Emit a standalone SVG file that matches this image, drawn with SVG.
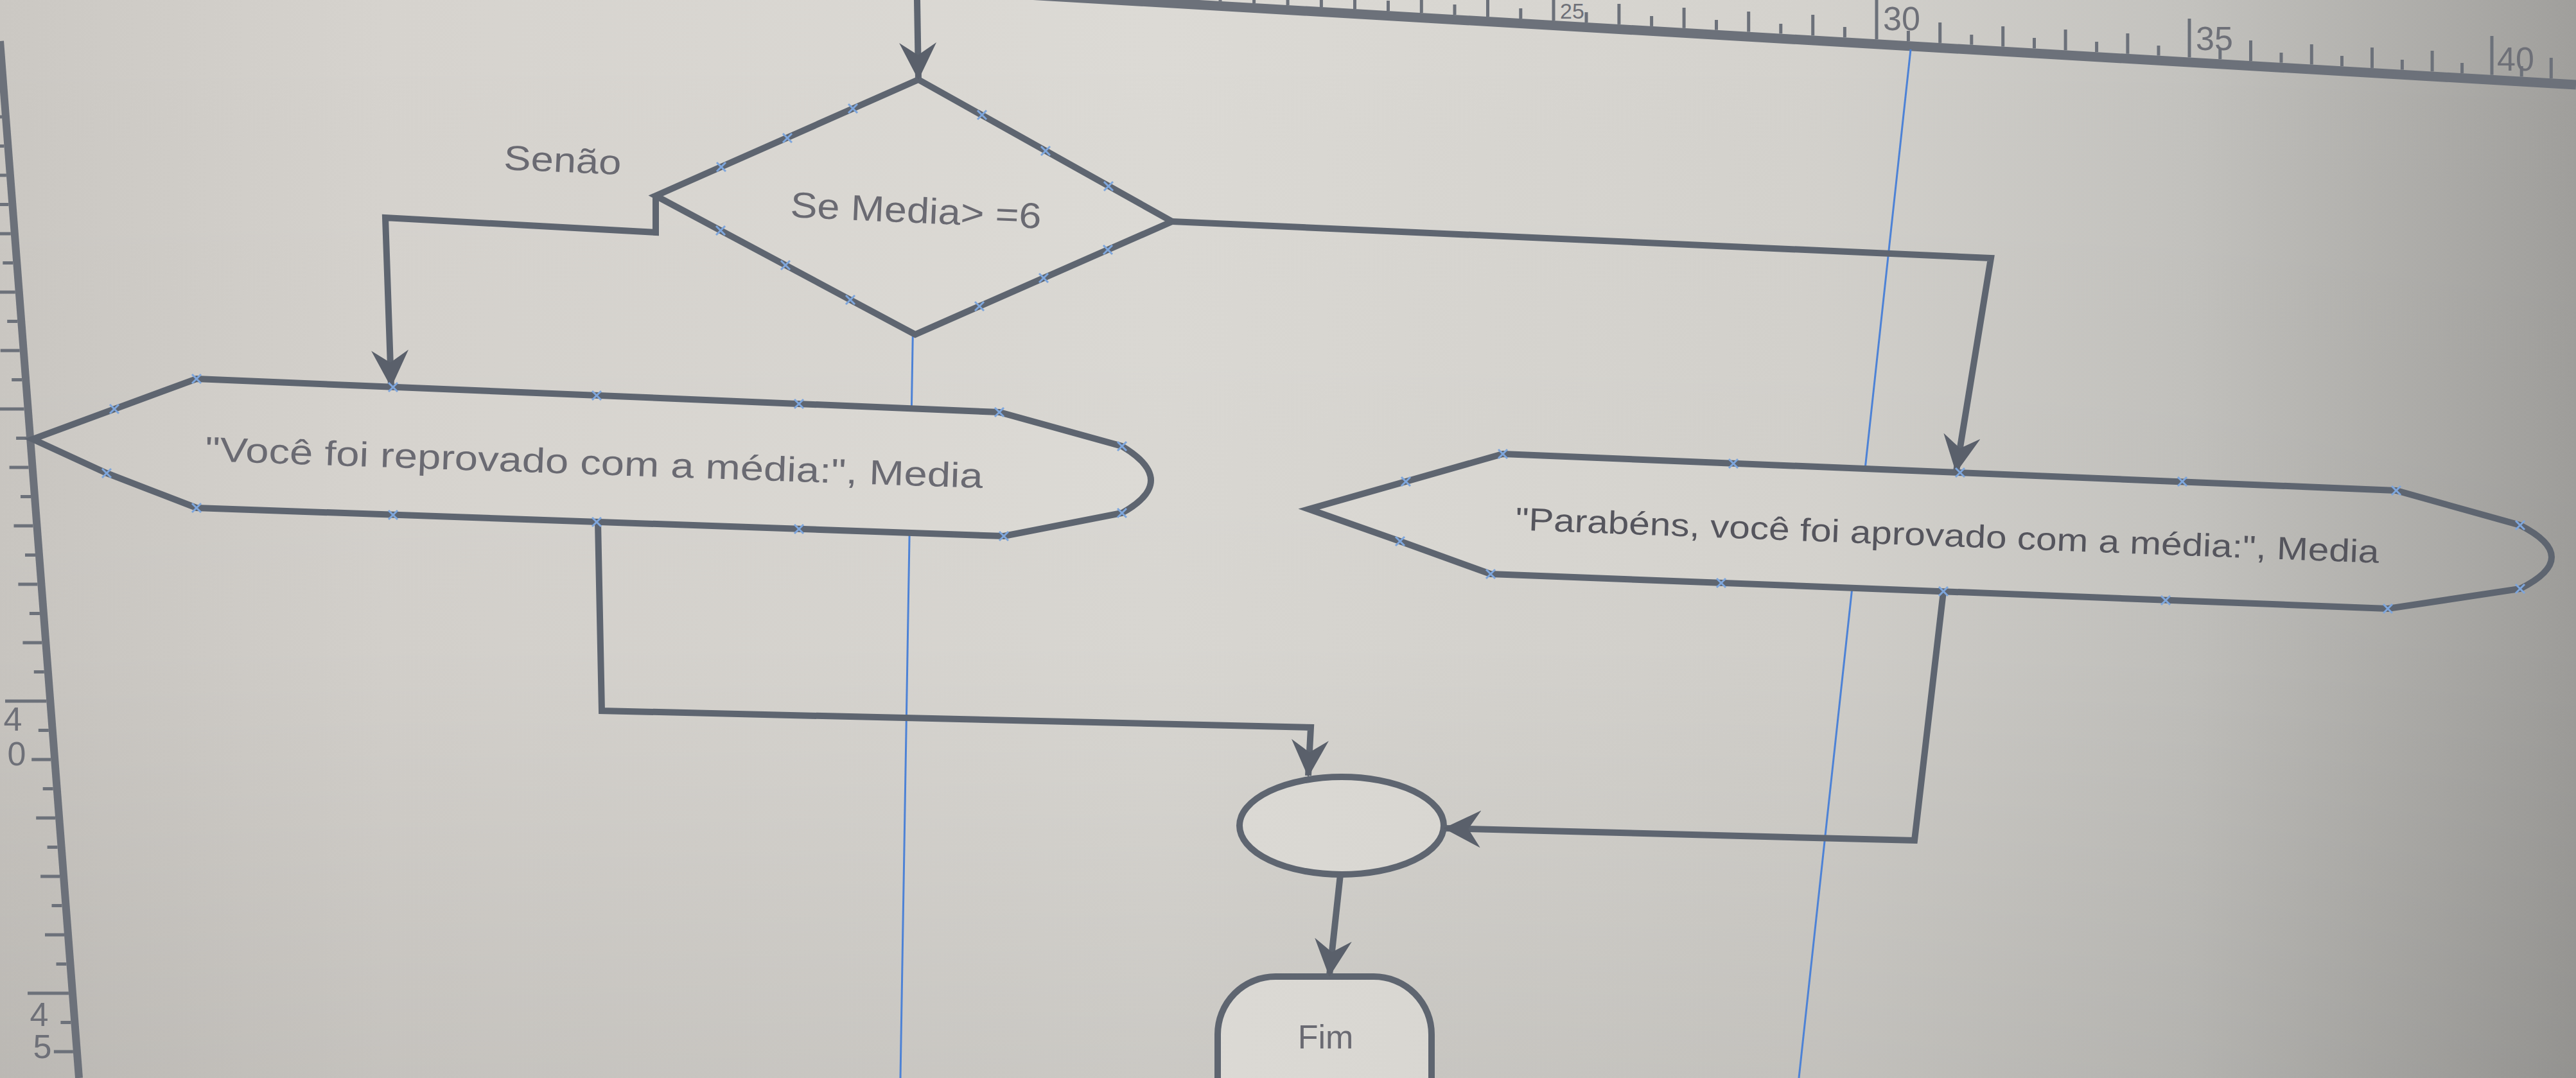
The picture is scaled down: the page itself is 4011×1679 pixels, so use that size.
<svg xmlns="http://www.w3.org/2000/svg" xmlns:xlink="http://www.w3.org/1999/xlink" width="4011" height="1679" viewBox="0 0 4011 1679">
<defs>
<linearGradient id="bg" gradientUnits="userSpaceOnUse" x1="0" y1="0" x2="4011" y2="0">
<stop offset="0" stop-color="#cbc8c3"/>
<stop offset="0.15" stop-color="#d6d3ce"/>
<stop offset="0.45" stop-color="#dcdad5"/>
<stop offset="0.7" stop-color="#d4d2cd"/>
<stop offset="0.85" stop-color="#c3c2be"/>
<stop offset="1" stop-color="#a09f9c"/>
</linearGradient>
<linearGradient id="shade" x1="0" y1="0" x2="0" y2="1">
<stop offset="0" stop-color="#000" stop-opacity="0"/>
<stop offset="0.6" stop-color="#000" stop-opacity="0.02"/>
<stop offset="1" stop-color="#000" stop-opacity="0.08"/>
</linearGradient>
<marker id="arr" viewBox="0 0 12 12" refX="11.5" refY="6" markerWidth="58" markerHeight="58" markerUnits="userSpaceOnUse" orient="auto">
<path d="M0,0 L12,6 L0,12 L4,6 Z" fill="#5a606b"/>
</marker>
<symbol id="xm" overflow="visible">
<path d="M-7,-7 L7,7 M-7,7 L7,-7" stroke="#7ea6dc" stroke-width="3" fill="none"/>
</symbol>
<style>
.shape{fill:url(#bg);stroke:#5e6570;stroke-width:10;stroke-linejoin:miter}
.conn{fill:none;stroke:#5e6570;stroke-width:10;stroke-linejoin:miter}
.guide{stroke:#4d82d6;stroke-width:3;fill:none}
.rl{stroke:#6c717a;fill:none}
.tk{stroke:#6c717a;stroke-width:5}
.lbl{font-family:"Liberation Sans","DejaVu Sans",Arial,sans-serif;fill:#6a6a72}
.rn{font-family:"Liberation Sans",Arial,sans-serif;font-size:52px;fill:#6e7078}
</style>
</defs>
<rect x="0" y="0" width="4011" height="1679" fill="url(#bg)"/>
<rect x="0" y="0" width="4011" height="1679" fill="url(#shade)"/>

<g id="ruler-top">
<line class="rl" x1="1600" y1="-8" x2="4011" y2="132" stroke-width="15"/>
<g class="tk">
<line x1="1900" y1="1.9" x2="1900" y2="-58"/>
<line x1="1952.6" y1="5" x2="1952.6" y2="-11"/>
<line x1="2005.1" y1="8" x2="2005.1" y2="-24"/>
<line x1="2057.4" y1="11" x2="2057.4" y2="-5"/>
<line x1="2109.5" y1="14.1" x2="2109.5" y2="-18"/>
<line x1="2161.5" y1="17.1" x2="2161.5" y2="1"/>
<line x1="2213.3" y1="20.1" x2="2213.3" y2="-12"/>
<line x1="2265" y1="23.1" x2="2265" y2="7"/>
<line x1="2316.5" y1="26.1" x2="2316.5" y2="-6"/>
<line x1="2367.8" y1="29" x2="2367.8" y2="13"/>
<line x1="2419" y1="32" x2="2419" y2="-28"/>
<line x1="2470" y1="35" x2="2470" y2="19"/>
<line x1="2520.9" y1="37.9" x2="2520.9" y2="6"/>
<line x1="2571.6" y1="40.9" x2="2571.6" y2="25"/>
<line x1="2622.1" y1="43.8" x2="2622.1" y2="12"/>
<line x1="2672.5" y1="46.7" x2="2672.5" y2="31"/>
<line x1="2722.7" y1="49.6" x2="2722.7" y2="18"/>
<line x1="2772.8" y1="52.5" x2="2772.8" y2="37"/>
<line x1="2822.7" y1="55.4" x2="2822.7" y2="23"/>
<line x1="2872.4" y1="58.3" x2="2872.4" y2="42"/>
<line x1="2922" y1="61.2" x2="2922" y2="0"/>
<line x1="2971.4" y1="64.1" x2="2971.4" y2="48"/>
<line x1="3020.7" y1="66.9" x2="3020.7" y2="35"/>
<line x1="3069.8" y1="69.7" x2="3069.8" y2="54"/>
<line x1="3118.7" y1="72.6" x2="3118.7" y2="41"/>
<line x1="3167.5" y1="75.4" x2="3167.5" y2="59"/>
<line x1="3216.1" y1="78.3" x2="3216.1" y2="46"/>
<line x1="3264.6" y1="81" x2="3264.6" y2="65"/>
<line x1="3312.9" y1="83.8" x2="3312.9" y2="52"/>
<line x1="3361" y1="86.6" x2="3361" y2="71"/>
<line x1="3409" y1="89.4" x2="3409" y2="29"/>
<line x1="3456.8" y1="92.2" x2="3456.8" y2="76"/>
<line x1="3504.5" y1="95" x2="3504.5" y2="63"/>
<line x1="3552" y1="97.7" x2="3552" y2="82"/>
<line x1="3599.3" y1="100.5" x2="3599.3" y2="69"/>
<line x1="3646.5" y1="103.2" x2="3646.5" y2="87"/>
<line x1="3693.5" y1="105.9" x2="3693.5" y2="74"/>
<line x1="3740.4" y1="108.6" x2="3740.4" y2="93"/>
<line x1="3787.1" y1="111.3" x2="3787.1" y2="79"/>
<line x1="3833.6" y1="114" x2="3833.6" y2="98"/>
<line x1="3880" y1="116.7" x2="3880" y2="56"/>
<line x1="3926.2" y1="119.4" x2="3926.2" y2="103"/>
<line x1="3972.3" y1="122.1" x2="3972.3" y2="90"/>
</g>
<text class="rn" x="2429" y="29" font-size="34" style="font-size:34px">25</text>
<text class="rn" x="2932" y="47">30</text>
<text class="rn" x="3419" y="78">35</text>
<text class="rn" x="3888" y="110">40</text>
</g>

<g id="ruler-left">
<line class="rl" x1="0" y1="64" x2="123" y2="1679" stroke-width="12"/>
<g class="tk">
<line x1="-59" y1="182" x2="3" y2="182"/>
<line x1="-10" y1="227.5" x2="6.5" y2="227.5"/>
<line x1="-20" y1="273" x2="9.9" y2="273"/>
<line x1="-3" y1="318.5" x2="13.4" y2="318.5"/>
<line x1="-13" y1="364" x2="16.8" y2="364"/>
<line x1="4.3" y1="409.5" x2="20.3" y2="409.5"/>
<line x1="-6" y1="455" x2="23.8" y2="455"/>
<line x1="11.2" y1="500.5" x2="27.2" y2="500.5"/>
<line x1="0.7" y1="546" x2="30.7" y2="546"/>
<line x1="18.2" y1="591.5" x2="34.2" y2="591.5"/>
<line x1="-24" y1="637" x2="37.6" y2="637"/>
<line x1="25.1" y1="682.5" x2="41.1" y2="682.5"/>
<line x1="14.6" y1="728" x2="44.6" y2="728"/>
<line x1="32" y1="773.5" x2="48" y2="773.5"/>
<line x1="21.5" y1="819" x2="51.5" y2="819"/>
<line x1="39" y1="864.5" x2="55" y2="864.5"/>
<line x1="28.4" y1="910" x2="58.4" y2="910"/>
<line x1="45.9" y1="955.5" x2="61.9" y2="955.5"/>
<line x1="35.4" y1="1001" x2="65.4" y2="1001"/>
<line x1="52.8" y1="1046.5" x2="68.8" y2="1046.5"/>
<line x1="8" y1="1092" x2="72.3" y2="1092"/>
<line x1="59.8" y1="1137.5" x2="75.8" y2="1137.5"/>
<line x1="49.2" y1="1183" x2="79.2" y2="1183"/>
<line x1="66.7" y1="1228.5" x2="82.7" y2="1228.5"/>
<line x1="56.2" y1="1274" x2="86.2" y2="1274"/>
<line x1="73.6" y1="1319.5" x2="89.6" y2="1319.5"/>
<line x1="63.1" y1="1365" x2="93.1" y2="1365"/>
<line x1="80.5" y1="1410.5" x2="96.5" y2="1410.5"/>
<line x1="70" y1="1456" x2="100" y2="1456"/>
<line x1="87.5" y1="1501.5" x2="103.5" y2="1501.5"/>
<line x1="43" y1="1547" x2="106.9" y2="1547"/>
<line x1="94.4" y1="1592.5" x2="110.4" y2="1592.5"/>
<line x1="83.9" y1="1638" x2="113.9" y2="1638"/>
</g>
<text class="rn" x="20" y="1138" font-size="46" text-anchor="middle">4</text>
<text class="rn" x="26" y="1192" font-size="46" text-anchor="middle">0</text>
<text class="rn" x="61" y="1598" font-size="46" text-anchor="middle">4</text>
<text class="rn" x="66" y="1648" font-size="46" text-anchor="middle">5</text>
</g>

<g id="guides">
<line class="guide" x1="1430" y1="0" x2="1402" y2="1679"/>
<line class="guide" x1="2975" y1="77" x2="2801" y2="1679"/>
</g>

<g id="node-decision">
<polygon class="shape" points="1430,124 1825,345 1425,521 1021,305"/>
<text class="lbl" x="1426" y="347" font-size="56" text-anchor="middle" textLength="391" lengthAdjust="spacingAndGlyphs" transform="rotate(2.6 1426 330)">Se Media&gt; =6</text>
</g>

<g id="node-output-reprovado">
<path class="shape" d="M306,590 L1556,642 L1747,695 Q1837,749 1747,799 L1563,835 L306,791 L166,737 L51,684 Z"/>
<text class="lbl" x="925" y="739" font-size="54" text-anchor="middle" textLength="1212" lengthAdjust="spacingAndGlyphs" transform="rotate(2 925 722)">"Você foi reprovado com a média:", Media</text>
</g>

<g id="node-output-aprovado">
<path class="shape" d="M2340,707 L3731,764 L3924,818 Q4022,868 3924,917 L3718,948 L2321,894 L2180,843 L2038,793 Z"/>
<text class="lbl" x="3032" y="851" font-size="50" text-anchor="middle" textLength="1346" lengthAdjust="spacingAndGlyphs" style="fill:#55555d" transform="rotate(2.2 3032 835)">"Parabéns, você foi aprovado com a média:", Media</text>
</g>

<g id="node-junction">
<ellipse class="shape" cx="2089" cy="1286" rx="159" ry="76"/>
</g>

<g id="node-fim">
<rect class="shape" x="1896" y="1521" width="333" height="260" rx="90" ry="90"/>
<text class="lbl" x="2064" y="1633" font-size="52" text-anchor="middle">Fim</text>
</g>

<g id="connectors">
<path class="conn" d="M1428,0 L1430,122" marker-end="url(#arr)"/>
<path class="conn" d="M1021,305 L1021,362 L600,339 L609,601" marker-end="url(#arr)"/>
<path class="conn" d="M1825,345 L3100,402 L3046,734" marker-end="url(#arr)"/>
<path class="conn" d="M931,813 L937,1107 L2041,1133 L2037,1208" marker-end="url(#arr)"/>
<path class="conn" d="M3026,921 L2981,1309 L2250,1290" marker-end="url(#arr)"/>
<path class="conn" d="M2087,1362 L2070,1519" marker-end="url(#arr)"/>
<text class="lbl" x="876" y="268" font-size="54" text-anchor="middle" textLength="183" lengthAdjust="spacingAndGlyphs" transform="rotate(2.5 876 250)">Senão</text>
</g>

<g id="handles">
<use href="#xm" x="1328" y="169"/><use href="#xm" x="1226" y="215"/><use href="#xm" x="1123" y="260"/>
<use href="#xm" x="1529" y="179"/><use href="#xm" x="1628" y="235"/><use href="#xm" x="1726" y="290"/>
<use href="#xm" x="1725" y="389"/><use href="#xm" x="1625" y="433"/><use href="#xm" x="1525" y="477"/>
<use href="#xm" x="1324" y="467"/><use href="#xm" x="1223" y="413"/><use href="#xm" x="1122" y="359"/>
<use href="#xm" x="306" y="590"/><use href="#xm" x="612" y="603"/><use href="#xm" x="929" y="616"/><use href="#xm" x="1244" y="629"/><use href="#xm" x="1556" y="642"/>
<use href="#xm" x="306" y="791"/><use href="#xm" x="612" y="802"/><use href="#xm" x="929" y="813"/><use href="#xm" x="1244" y="824"/><use href="#xm" x="1563" y="835"/>
<use href="#xm" x="178" y="637"/><use href="#xm" x="166" y="737"/><use href="#xm" x="1747" y="695"/><use href="#xm" x="1747" y="799"/>
<use href="#xm" x="2340" y="707"/><use href="#xm" x="2699" y="722"/><use href="#xm" x="3052" y="736"/><use href="#xm" x="3398" y="750"/><use href="#xm" x="3731" y="764"/>
<use href="#xm" x="2321" y="894"/><use href="#xm" x="2680" y="908"/><use href="#xm" x="3026" y="921"/><use href="#xm" x="3372" y="935"/><use href="#xm" x="3718" y="948"/>
<use href="#xm" x="2189" y="750"/><use href="#xm" x="2180" y="843"/><use href="#xm" x="3924" y="818"/><use href="#xm" x="3924" y="917"/>
</g>
</svg>
